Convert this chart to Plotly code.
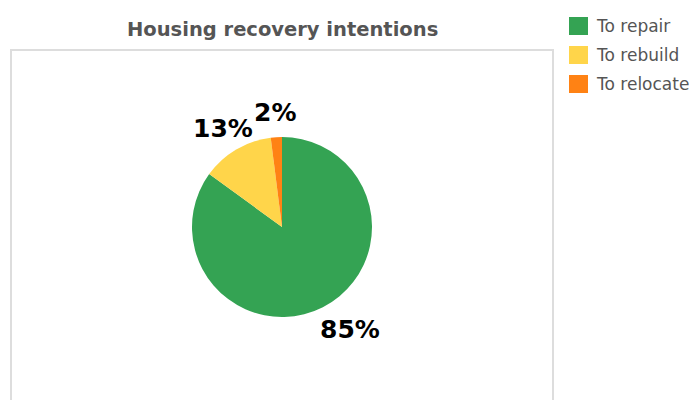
import math
import plotly.graph_objects as go

# Survey shares of households by housing recovery intention
labels = ["To repair", "To rebuild", "To relocate"]
values = [85, 13, 2]
colors = ["#34A353", "#FFD54A", "#FF8214"]

W, H = 689, 400

# pie placement in pixels (paper coords == pixels since margins are zero)
cx, cy, r = 282, 227, 90

fig = go.Figure(
    go.Pie(
        labels=labels,
        values=values,
        sort=False,
        direction="clockwise",
        rotation=0,
        marker=dict(colors=colors, line=dict(width=0)),
        textinfo="none",
        domain=dict(x=[(cx - r) / W, (cx + r) / W], y=[1 - (cy + r) / H, 1 - (cy - r) / H]),
        showlegend=False,
        hoverinfo="label+percent",
    )
)

shapes = [
    # light frame around the chart area
    dict(type="rect", xref="paper", yref="paper",
         x0=11 / W, x1=553 / W, y0=-0.05, y1=1 - 50 / H,
         line=dict(color="#DDDDDD", width=2), fillcolor="rgba(0,0,0,0)", layer="below"),
]
annotations = [
    dict(text="<b>Housing recovery intentions</b>", xref="paper", yref="paper",
         x=282 / W, y=1 - 29 / H, xanchor="center", yanchor="middle", showarrow=False,
         font=dict(family="DejaVu Sans", size=19.5, color="#555555")),
]

# percentage labels just outside each slice, at the slice's mid angle
total = sum(values)
start = 0.0
label_r = 115
for v in values:
    mid = (start + v / 2) / total * 2 * math.pi
    start += v
    dx, dy = math.sin(mid), -math.cos(mid)
    px = cx + dx * label_r + (16 if dx > 0.1 else 0)
    py = cy + dy * label_r
    annotations.append(dict(text=f"<b>{round(v / total * 100)}%</b>", xref="paper", yref="paper",
                            x=px / W, y=1 - py / H, xanchor="center", yanchor="middle",
                            showarrow=False,
                            font=dict(family="DejaVu Sans", size=25, color="#000000")))

# legend swatches and labels at the top right
for i, (lab, col) in enumerate(zip(labels, colors)):
    yc = 26 + i * 29
    shapes.append(dict(type="rect", xref="paper", yref="paper",
                       x0=569 / W, x1=588 / W, y0=1 - (yc + 9) / H, y1=1 - (yc - 9) / H,
                       fillcolor=col, line=dict(width=0)))
    annotations.append(dict(text=lab, xref="paper", yref="paper",
                            x=594 / W, y=1 - yc / H, xanchor="left", yanchor="middle",
                            showarrow=False,
                            font=dict(family="DejaVu Sans", size=17, color="#555555")))

fig.update_layout(
    width=W, height=H,
    margin=dict(l=0, r=0, t=0, b=0),
    paper_bgcolor="white",
    plot_bgcolor="white",
    shapes=shapes,
    annotations=annotations,
)

fig.write_html("out.html")
